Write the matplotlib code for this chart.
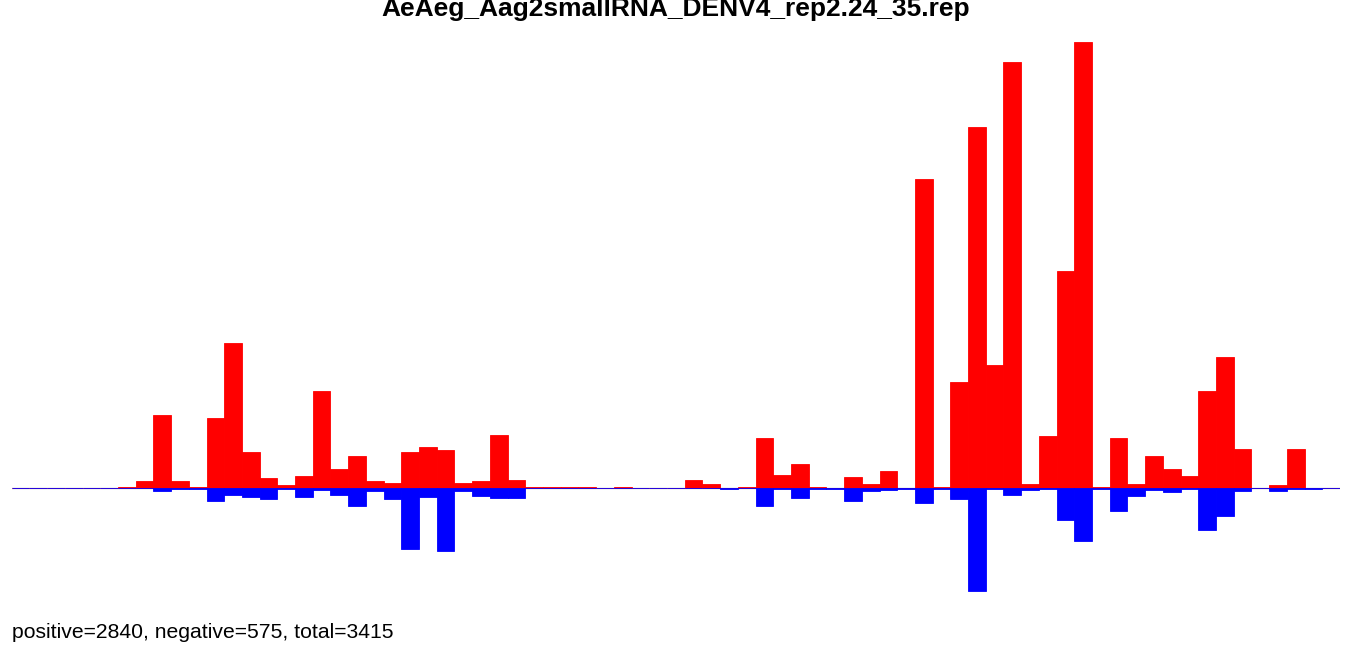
import numpy as np
import matplotlib
matplotlib.use("Agg")
import matplotlib.pyplot as plt

plt.rcParams['font.family'] = ['Liberation Sans', 'DejaVu Sans']

title = "AeAeg_Aag2smallRNA_DENV4_rep2.24_35.rep"
n_bins = 75

# read counts per genome bin, sense strand (positive) and antisense (negative)
positive = [
    0, 0, 0, 0, 0, 0, 1, 6, 62, 6,
    1, 60, 124, 31, 8, 2, 10, 83, 16, 27,
    6, 4, 31, 35, 32, 4, 6, 45, 7, 1,
    1, 1, 1, 0, 1, 0, 0, 0, 7, 3,
    0, 1, 43, 11, 20, 1, 0, 9, 3, 14,
    0, 265, 1, 91, 310, 105, 365, 3, 44, 186,
    383, 1, 43, 3, 27, 16, 10, 83, 112, 33,
    0, 2, 33, 0, 0,
]
negative = [
    0, 0, 0, 0, 0, 0, 0, 0, 3, 1,
    1, 11, 6, 8, 10, 1, 8, 2, 6, 16,
    3, 10, 53, 8, 54, 3, 7, 9, 9, 0,
    0, 0, 0, 0, 0, 0, 0, 0, 0, 0,
    1, 0, 16, 1, 9, 1, 1, 11, 3, 2,
    1, 13, 1, 10, 89, 1, 6, 2, 1, 28,
    46, 1, 20, 7, 2, 4, 1, 36, 24, 3,
    0, 3, 1, 1, 0,
]

pos_total = sum(positive)
neg_total = sum(negative)

W, H = 1352, 655
fig = plt.figure(figsize=(W / 100, H / 100), dpi=100)

# plot area in pixels: bins span x 11.7..1340, zero line at y 487.7
px_per_count = 1.165
y_min, y_max = -100, 383
x_left, x_right = 11.7, 1340.0
y_zero = 487.7
top_px = y_zero - y_max * px_per_count
bot_px = y_zero - y_min * px_per_count
ax = fig.add_axes([x_left / W, 1 - bot_px / H,
                   (x_right - x_left) / W, (bot_px - top_px) / H])

x = np.arange(n_bins)
ax.axhline(0, color="#bebebe", lw=1.0, zorder=0)
ax.bar(x, positive, width=1.0, align="edge", color="#ff0000",
       edgecolor="#ff0000", linewidth=0.6, zorder=1)
ax.bar(x, -np.array(negative), width=1.0, align="edge", color="#0000ff",
       edgecolor="#0000ff", linewidth=0.6, zorder=2)

ax.set_xlim(0, n_bins)
ax.set_ylim(y_min, y_max)
ax.axis("off")

fig.text(0.5, 1 - 16 / H, title, ha="center", va="baseline",
         fontsize=19, fontweight="bold")
fig.text(12 / W, 1 - 638 / H,
         f"positive={pos_total}, negative={neg_total}, total={pos_total + neg_total}",
         ha="left", va="baseline", fontsize=15.2)

fig.savefig("out.png", dpi=100)
